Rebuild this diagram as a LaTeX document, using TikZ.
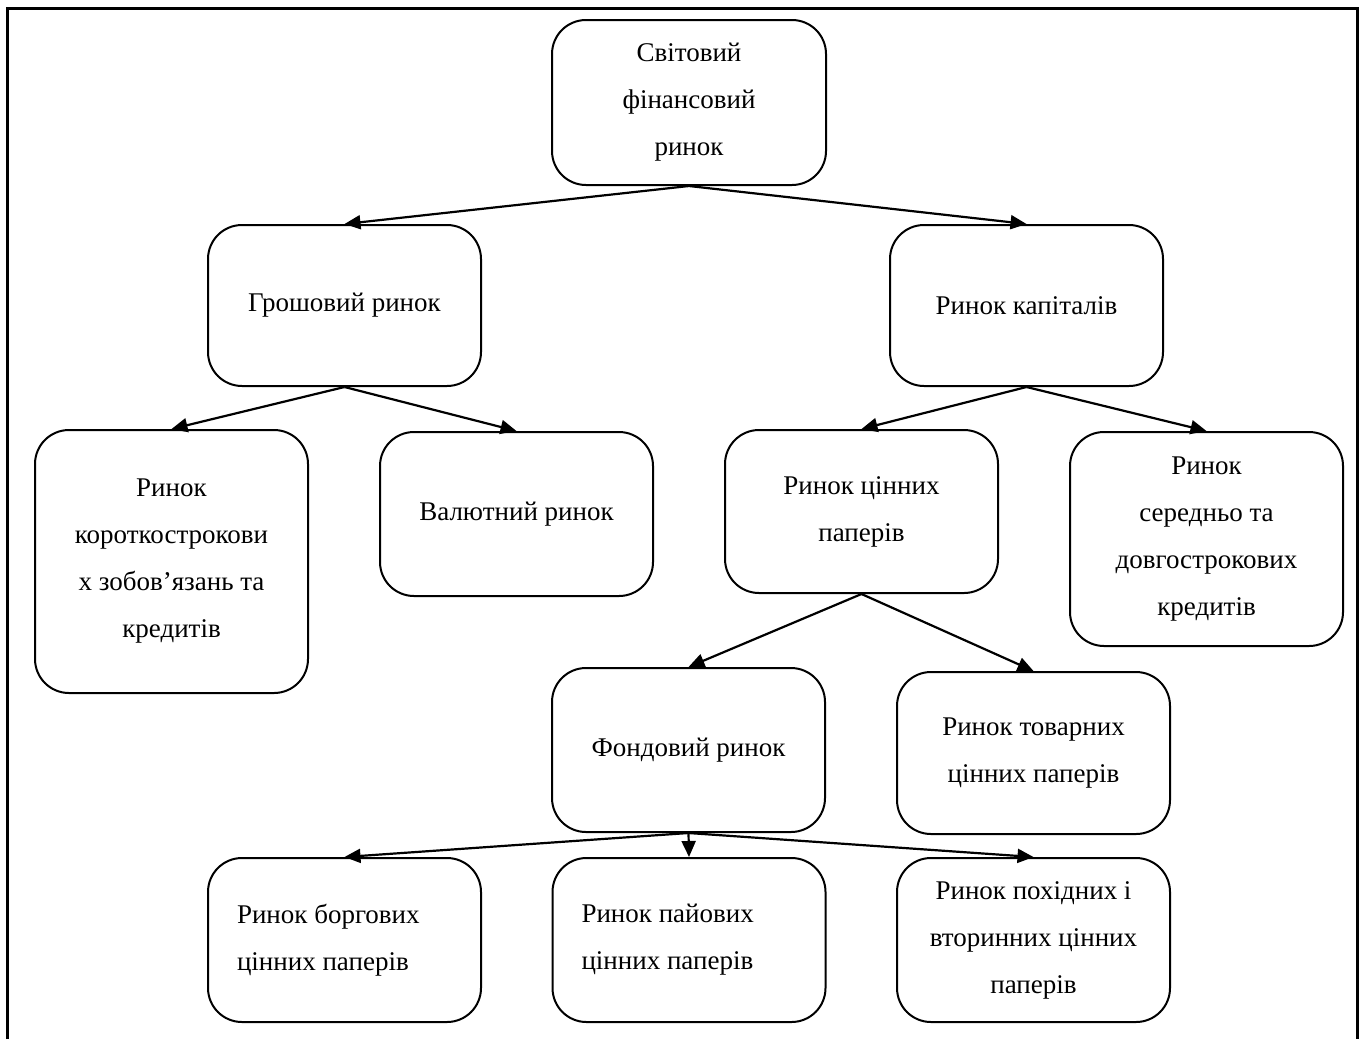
\documentclass[tikz,border=0pt]{standalone}
\usepackage{fontspec}
\setmainfont{Liberation Serif}
\usetikzlibrary{arrows.meta}
\begin{document}
\begin{tikzpicture}[x=0.5pt,y=-0.5pt,
  box/.style={draw, line width=1pt, rounded corners=17pt, align=center,
    inner sep=0pt, font=\fontsize{13.5pt}{23.5pt}\selectfont,
    minimum width=136.5pt},
  lbox/.style={box, align=flush left, inner xsep=14.5pt, text width=107.5pt},
  conn/.style={line width=1.1pt, -{Triangle[length=8pt,width=7pt]}}]
\useasboundingbox (0,0) rectangle (1363,1039);
\draw[line width=1.5pt] (7,1039) -- (7,8) -- (1357,8) -- (1357,1039);

\node[box, minimum width=137pt, minimum height=82.5pt] (world) at (689,102.5) {Світовий\\фінансовий\\ринок};
\node[box, minimum height=80.5pt] (money) at (344.5,305.5) {Грошовий ринок};
\node[box, minimum height=80.5pt] (capital) at (1026.5,305.5) {Ринок капіталів};
\node[box, minimum height=131.5pt] (short) at (171.5,561.5) {Ринок\\короткострокови\\х зобов’язань та\\кредитів};
\node[box, minimum height=82pt] (fx) at (516.5,514) {Валютний ринок};
\node[box, minimum height=81.5pt] (sec) at (861.5,511.5) {Ринок цінних\\паперів};
\node[box, minimum height=107pt] (midlong) at (1206.5,539) {Ринок\\середньо та\\довгострокових\\кредитів};
\node[box, minimum height=82pt] (stock) at (688.5,750) {Фондовий ринок};
\node[box, minimum height=81pt] (comm) at (1033.5,753) {Ринок товарних\\цінних паперів};
\node[lbox, minimum height=82pt] (debt) at (344.5,940) {Ринок боргових\\цінних паперів};
\node[lbox, minimum height=82pt] (equity) at (689,940) {Ринок пайових\\цінних паперів};
\node[box, minimum height=82pt] (deriv) at (1033.5,940) {Ринок похідних і\\вторинних цінних\\паперів};

\draw[conn] (world.south) -- (money.north);
\draw[conn] (world.south) -- (capital.north);
\draw[conn] (money.south) -- (short.north);
\draw[conn] (money.south) -- (fx.north);
\draw[conn] (capital.south) -- (sec.north);
\draw[conn] (capital.south) -- (midlong.north);
\draw[conn] (sec.south) -- (stock.north);
\draw[conn] (sec.south) -- (comm.north);
\draw[conn] (stock.south) -- (debt.north);
\draw[conn] (stock.south) -- (equity.north);
\draw[conn] (stock.south) -- (deriv.north);
\end{tikzpicture}
\end{document}
